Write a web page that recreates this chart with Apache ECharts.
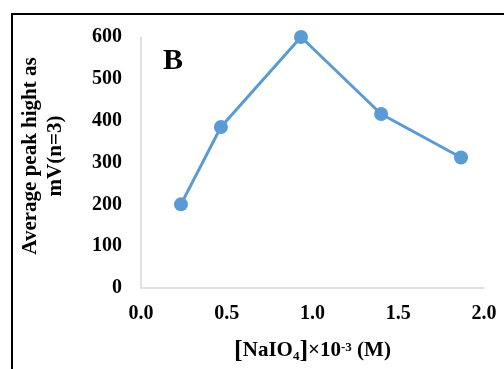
<!DOCTYPE html>
<html>
<head>
<meta charset="utf-8">
<script src="https://cdn.jsdelivr.net/npm/echarts@6/dist/echarts.min.js"></script>
<style>
  html, body { margin: 0; padding: 0; background: #fff; }
  #main { width: 504px; height: 369px; }
</style>
</head>
<body>
<div id="main"></div>
<script>
// 数据
var naio4 = [0.233, 0.466, 0.933, 1.4, 1.866];
var peakHeight = [200, 385, 600, 416, 312];
var xTicks = [0, 0.5, 1.0, 1.5, 2.0];
var yTicks = [0, 100, 200, 300, 400, 500, 600];

var chart = echarts.init(document.getElementById('main'));

var serif = '"Liberation Serif", "Times New Roman", serif';

var option = {
    backgroundColor: '#fff',
    animation: false,
    grid: {
        left: 141,
        right: 20,
        top: 37,
        bottom: 80
    },
    // 外框、字母B、纵轴标题
    graphic: [{
        type: 'rect',
        shape: { x: 12, y: 14, width: 600, height: 400 },
        style: { fill: 'none', stroke: '#000', lineWidth: 2 },
        silent: true
    }, {
        type: 'text',
        x: 173,
        y: 61,
        style: {
            text: 'B',
            font: 'bold 30px ' + serif,
            fill: '#000',
            align: 'center',
            verticalAlign: 'middle'
        }
    }, {
        type: 'text',
        x: 43,
        y: 156,
        rotation: Math.PI / 2,
        style: {
            text: 'Average peak hight as\nmV(n=3)',
            font: 'bold 21px ' + serif,
            lineHeight: 25,
            fill: '#000',
            align: 'center',
            verticalAlign: 'middle'
        }
    }],
    xAxis: {
        type: 'value',
        min: 0,
        max: 2,
        interval: 0.5,
        name: '{b|[}NaIO{sub|4}{b|]}×10{sup|-3} (M)',
        nameLocation: 'middle',
        nameGap: 50,
        nameTextStyle: {
            fontFamily: serif,
            fontWeight: 'bold',
            fontSize: 21,
            color: '#000',
            rich: {
                b: { fontFamily: serif, fontWeight: 'bold', fontSize: 26, color: '#000' },
                sub: { fontFamily: serif, fontWeight: 'bold', fontSize: 13, color: '#000', padding: [12, 0, 0, 0] },
                sup: { fontFamily: serif, fontWeight: 'bold', fontSize: 13, color: '#000', padding: [0, 0, 6, 0] }
            }
        },
        axisLine: { show: true, lineStyle: { color: '#d9d9d9', width: 1.5 } },
        axisTick: { show: false },
        splitLine: { show: false },
        axisLabel: {
            margin: 16,
            fontFamily: serif,
            fontWeight: 'bold',
            fontSize: 20,
            color: '#000',
            formatter: function (v) { return v.toFixed(1); }
        }
    },
    yAxis: {
        type: 'value',
        min: 0,
        max: 600,
        interval: 100,
        axisLine: { show: true, lineStyle: { color: '#d9d9d9', width: 1.5 } },
        axisTick: { show: false },
        splitLine: { show: false },
        axisLabel: {
            margin: 19,
            fontFamily: serif,
            fontWeight: 'bold',
            fontSize: 20,
            color: '#000'
        }
    },
    series: [{
        type: 'line',
        data: naio4.map(function (x, i) { return [x, peakHeight[i]]; }),
        symbol: 'circle',
        symbolSize: 14,
        itemStyle: { color: '#5b9bd5' },
        lineStyle: { color: '#5b9bd5', width: 3 }
    }]
};

chart.setOption(option);
</script>
</body>
</html>
